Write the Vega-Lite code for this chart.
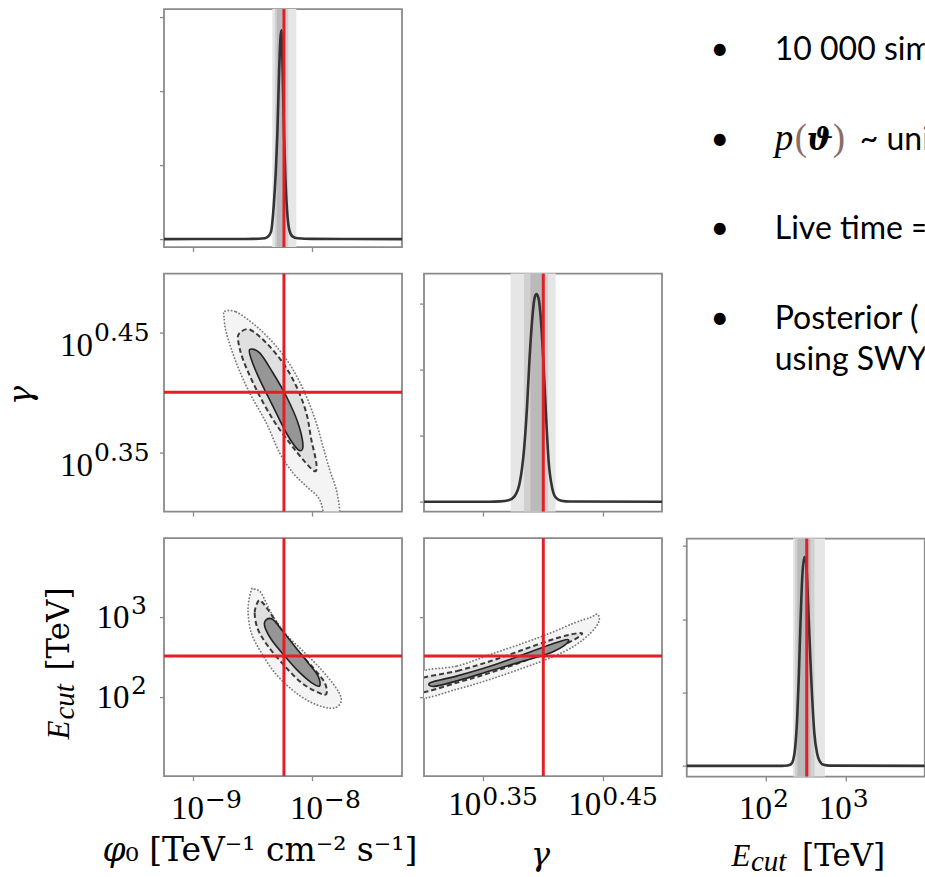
{
"$schema": "https://vega.github.io/schema/vega-lite/v6.json",
"background": "white",
"padding": {"left": 4.0, "top": 6.1, "right": 0, "bottom": 0},
"config": {
  "view": {"stroke": "#8a8a8a", "strokeWidth": 1.8},
  "axis": {"labels": false, "domain": false, "grid": false, "tickColor": "#8a8a8a", "tickSize": 4.5, "tickWidth": 1.3}
},
"datasets": {
  "truth": [{"log_phi0": -8.236, "log_gamma": 0.400, "log_Ecut": 2.51}],
  "bands_phi0": [{"interval": "99.7%", "lo": -8.334, "hi": -8.132}, {"interval": "95%", "lo": -8.313, "hi": -8.200}, {"interval": "68%", "lo": -8.296, "hi": -8.225}],
  "bands_gamma": [{"interval": "99.7%", "lo": 0.3728, "hi": 0.4103}, {"interval": "95%", "lo": 0.3839, "hi": 0.4039}, {"interval": "68%", "lo": 0.3893, "hi": 0.3994}],
  "bands_Ecut": [{"interval": "99.7%", "lo": 2.337, "hi": 2.738}, {"interval": "95%", "lo": 2.362, "hi": 2.607}, {"interval": "68%", "lo": 2.393, "hi": 2.556}],
  "marg_phi0": [{"log_phi0": -9.244, "density": 0.003}, {"log_phi0": -8.7, "density": 0.004}, {"log_phi0": -8.5, "density": 0.006}, {"log_phi0": -8.42, "density": 0.01}, {"log_phi0": -8.375, "density": 0.03}, {"log_phi0": -8.345, "density": 0.1}, {"log_phi0": -8.322, "density": 0.45}, {"log_phi0": -8.305, "density": 0.9}, {"log_phi0": -8.292, "density": 1.4}, {"log_phi0": -8.277, "density": 2.25}, {"log_phi0": -8.266, "density": 2.7}, {"log_phi0": -8.258, "density": 2.82}, {"log_phi0": -8.252, "density": 2.6}, {"log_phi0": -8.246, "density": 2.2}, {"log_phi0": -8.235, "density": 1.4}, {"log_phi0": -8.222, "density": 0.75}, {"log_phi0": -8.208, "density": 0.35}, {"log_phi0": -8.19, "density": 0.12}, {"log_phi0": -8.165, "density": 0.04}, {"log_phi0": -8.12, "density": 0.014}, {"log_phi0": -8.0, "density": 0.006}, {"log_phi0": -7.7, "density": 0.004}, {"log_phi0": -7.244, "density": 0.003}],
  "marg_gamma": [{"log_gamma": 0.3006, "density": 0}, {"log_gamma": 0.355, "density": 0}, {"log_gamma": 0.364, "density": 0.004}, {"log_gamma": 0.371, "density": 0.02}, {"log_gamma": 0.376, "density": 0.08}, {"log_gamma": 0.3805, "density": 0.3}, {"log_gamma": 0.384, "density": 0.8}, {"log_gamma": 0.3865, "density": 1.45}, {"log_gamma": 0.3885, "density": 2.15}, {"log_gamma": 0.3905, "density": 2.7}, {"log_gamma": 0.3925, "density": 3.06}, {"log_gamma": 0.3942, "density": 3.14}, {"log_gamma": 0.396, "density": 3.08}, {"log_gamma": 0.398, "density": 2.75}, {"log_gamma": 0.4, "density": 2.15}, {"log_gamma": 0.402, "density": 1.4}, {"log_gamma": 0.4045, "density": 0.6}, {"log_gamma": 0.4075, "density": 0.2}, {"log_gamma": 0.4105, "density": 0.06}, {"log_gamma": 0.415, "density": 0.015}, {"log_gamma": 0.422, "density": 0.002}, {"log_gamma": 0.4989, "density": 0}],
  "marg_Ecut": [{"log_Ecut": 1.005, "density": 0}, {"log_Ecut": 2.2, "density": 0}, {"log_Ecut": 2.27, "density": 0.005}, {"log_Ecut": 2.31, "density": 0.02}, {"log_Ecut": 2.34, "density": 0.08}, {"log_Ecut": 2.365, "density": 0.25}, {"log_Ecut": 2.39, "density": 0.65}, {"log_Ecut": 2.41, "density": 1.2}, {"log_Ecut": 2.43, "density": 1.9}, {"log_Ecut": 2.455, "density": 2.6}, {"log_Ecut": 2.481, "density": 2.85}, {"log_Ecut": 2.502, "density": 2.77}, {"log_Ecut": 2.53, "density": 2.13}, {"log_Ecut": 2.565, "density": 1.22}, {"log_Ecut": 2.605, "density": 0.45}, {"log_Ecut": 2.64, "density": 0.17}, {"log_Ecut": 2.67, "density": 0.07}, {"log_Ecut": 2.72, "density": 0.015}, {"log_Ecut": 2.8, "density": 0.003}, {"log_Ecut": 3.99, "density": 0}],
  "cont_phi0_gamma": [
    {"level": "outer", "i": 0, "log_phi0": -8.734, "log_gamma": 0.4675}, {"level": "outer", "i": 1, "log_phi0": -8.636, "log_gamma": 0.4669}, {"level": "outer", "i": 2, "log_phi0": -8.468, "log_gamma": 0.4550}, {"level": "outer", "i": 3, "log_phi0": -8.300, "log_gamma": 0.4383}, {"level": "outer", "i": 4, "log_phi0": -8.160, "log_gamma": 0.4189}, {"level": "outer", "i": 5, "log_phi0": -8.048, "log_gamma": 0.3967}, {"level": "outer", "i": 6, "log_phi0": -7.964, "log_gamma": 0.3744}, {"level": "outer", "i": 7, "log_phi0": -7.908, "log_gamma": 0.3550}, {"level": "outer", "i": 8, "log_phi0": -7.852, "log_gamma": 0.3356}, {"level": "outer", "i": 9, "log_phi0": -7.796, "log_gamma": 0.3189}, {"level": "outer", "i": 10, "log_phi0": -7.768, "log_gamma": 0.3023}, {"level": "outer", "i": 11, "log_phi0": -7.771, "log_gamma": 0.2925}, {"level": "outer", "i": 12, "log_phi0": -7.880, "log_gamma": 0.2925}, {"level": "outer", "i": 13, "log_phi0": -7.936, "log_gamma": 0.3106}, {"level": "outer", "i": 14, "log_phi0": -8.048, "log_gamma": 0.3217}, {"level": "outer", "i": 15, "log_phi0": -8.160, "log_gamma": 0.3328}, {"level": "outer", "i": 16, "log_phi0": -8.272, "log_gamma": 0.3494}, {"level": "outer", "i": 17, "log_phi0": -8.384, "log_gamma": 0.3744}, {"level": "outer", "i": 18, "log_phi0": -8.524, "log_gamma": 0.3994}, {"level": "outer", "i": 19, "log_phi0": -8.636, "log_gamma": 0.4244}, {"level": "outer", "i": 20, "log_phi0": -8.720, "log_gamma": 0.4494}, {"level": "outer", "i": 21, "log_phi0": -8.740, "log_gamma": 0.4633},
    {"level": "mid", "i": 0, "log_phi0": -8.608, "log_gamma": 0.4494}, {"level": "mid", "i": 1, "log_phi0": -8.524, "log_gamma": 0.4523}, {"level": "mid", "i": 2, "log_phi0": -8.384, "log_gamma": 0.4411}, {"level": "mid", "i": 3, "log_phi0": -8.244, "log_gamma": 0.4244}, {"level": "mid", "i": 4, "log_phi0": -8.132, "log_gamma": 0.4050}, {"level": "mid", "i": 5, "log_phi0": -8.048, "log_gamma": 0.3828}, {"level": "mid", "i": 6, "log_phi0": -8.006, "log_gamma": 0.3606}, {"level": "mid", "i": 7, "log_phi0": -7.964, "log_gamma": 0.3411}, {"level": "mid", "i": 8, "log_phi0": -7.978, "log_gamma": 0.3342}, {"level": "mid", "i": 9, "log_phi0": -8.076, "log_gamma": 0.3439}, {"level": "mid", "i": 10, "log_phi0": -8.188, "log_gamma": 0.3578}, {"level": "mid", "i": 11, "log_phi0": -8.328, "log_gamma": 0.3773}, {"level": "mid", "i": 12, "log_phi0": -8.468, "log_gamma": 0.4023}, {"level": "mid", "i": 13, "log_phi0": -8.580, "log_gamma": 0.4273}, {"level": "mid", "i": 14, "log_phi0": -8.622, "log_gamma": 0.4439},
    {"level": "inner", "i": 0, "log_phi0": -8.524, "log_gamma": 0.4356}, {"level": "inner", "i": 1, "log_phi0": -8.440, "log_gamma": 0.4328}, {"level": "inner", "i": 2, "log_phi0": -8.328, "log_gamma": 0.4161}, {"level": "inner", "i": 3, "log_phi0": -8.216, "log_gamma": 0.3967}, {"level": "inner", "i": 4, "log_phi0": -8.118, "log_gamma": 0.3744}, {"level": "inner", "i": 5, "log_phi0": -8.076, "log_gamma": 0.3550}, {"level": "inner", "i": 6, "log_phi0": -8.118, "log_gamma": 0.3523}, {"level": "inner", "i": 7, "log_phi0": -8.216, "log_gamma": 0.3661}, {"level": "inner", "i": 8, "log_phi0": -8.328, "log_gamma": 0.3883}, {"level": "inner", "i": 9, "log_phi0": -8.440, "log_gamma": 0.4106}, {"level": "inner", "i": 10, "log_phi0": -8.510, "log_gamma": 0.4273}
  ],
  "cont_phi0_Ecut": [
    {"level": "outer", "i": 0, "log_phi0": -8.510, "log_Ecut": 3.341}, {"level": "outer", "i": 1, "log_phi0": -8.482, "log_Ecut": 3.349}, {"level": "outer", "i": 2, "log_phi0": -8.426, "log_Ecut": 3.299}, {"level": "outer", "i": 3, "log_phi0": -8.342, "log_Ecut": 3.050}, {"level": "outer", "i": 4, "log_phi0": -8.230, "log_Ecut": 2.801}, {"level": "outer", "i": 5, "log_phi0": -8.090, "log_Ecut": 2.594}, {"level": "outer", "i": 6, "log_phi0": -7.950, "log_Ecut": 2.386}, {"level": "outer", "i": 7, "log_phi0": -7.810, "log_Ecut": 2.137}, {"level": "outer", "i": 8, "log_phi0": -7.754, "log_Ecut": 1.971}, {"level": "outer", "i": 9, "log_phi0": -7.796, "log_Ecut": 1.867}, {"level": "outer", "i": 10, "log_phi0": -7.894, "log_Ecut": 1.867}, {"level": "outer", "i": 11, "log_phi0": -8.034, "log_Ecut": 1.950}, {"level": "outer", "i": 12, "log_phi0": -8.174, "log_Ecut": 2.096}, {"level": "outer", "i": 13, "log_phi0": -8.314, "log_Ecut": 2.303}, {"level": "outer", "i": 14, "log_phi0": -8.426, "log_Ecut": 2.552}, {"level": "outer", "i": 15, "log_phi0": -8.510, "log_Ecut": 2.801}, {"level": "outer", "i": 16, "log_phi0": -8.538, "log_Ecut": 3.092},
    {"level": "mid", "i": 0, "log_phi0": -8.454, "log_Ecut": 3.196}, {"level": "mid", "i": 1, "log_phi0": -8.482, "log_Ecut": 3.050}, {"level": "mid", "i": 2, "log_phi0": -8.454, "log_Ecut": 2.843}, {"level": "mid", "i": 3, "log_phi0": -8.370, "log_Ecut": 2.635}, {"level": "mid", "i": 4, "log_phi0": -8.230, "log_Ecut": 2.386}, {"level": "mid", "i": 5, "log_phi0": -8.090, "log_Ecut": 2.178}, {"level": "mid", "i": 6, "log_phi0": -7.950, "log_Ecut": 2.054}, {"level": "mid", "i": 7, "log_phi0": -7.880, "log_Ecut": 2.034}, {"level": "mid", "i": 8, "log_phi0": -7.894, "log_Ecut": 2.178}, {"level": "mid", "i": 9, "log_phi0": -7.992, "log_Ecut": 2.365}, {"level": "mid", "i": 10, "log_phi0": -8.132, "log_Ecut": 2.594}, {"level": "mid", "i": 11, "log_phi0": -8.258, "log_Ecut": 2.843}, {"level": "mid", "i": 12, "log_phi0": -8.370, "log_Ecut": 3.092}, {"level": "mid", "i": 13, "log_phi0": -8.426, "log_Ecut": 3.196},
    {"level": "inner", "i": 0, "log_phi0": -8.384, "log_Ecut": 2.968}, {"level": "inner", "i": 1, "log_phi0": -8.398, "log_Ecut": 2.884}, {"level": "inner", "i": 2, "log_phi0": -8.342, "log_Ecut": 2.719}, {"level": "inner", "i": 3, "log_phi0": -8.230, "log_Ecut": 2.511}, {"level": "inner", "i": 4, "log_phi0": -8.118, "log_Ecut": 2.324}, {"level": "inner", "i": 5, "log_phi0": -8.006, "log_Ecut": 2.178}, {"level": "inner", "i": 6, "log_phi0": -7.936, "log_Ecut": 2.137}, {"level": "inner", "i": 7, "log_phi0": -7.950, "log_Ecut": 2.262}, {"level": "inner", "i": 8, "log_phi0": -8.034, "log_Ecut": 2.427}, {"level": "inner", "i": 9, "log_phi0": -8.146, "log_Ecut": 2.635}, {"level": "inner", "i": 10, "log_phi0": -8.258, "log_Ecut": 2.843}, {"level": "inner", "i": 11, "log_phi0": -8.328, "log_Ecut": 2.968}
  ],
  "cont_gamma_Ecut": [
    {"level": "outer", "i": 0, "log_gamma": 0.2964, "log_Ecut": 2.299}, {"level": "outer", "i": 1, "log_gamma": 0.3283, "log_Ecut": 2.386}, {"level": "outer", "i": 2, "log_gamma": 0.3562, "log_Ecut": 2.532}, {"level": "outer", "i": 3, "log_gamma": 0.3839, "log_Ecut": 2.676}, {"level": "outer", "i": 4, "log_gamma": 0.4062, "log_Ecut": 2.801}, {"level": "outer", "i": 5, "log_gamma": 0.4256, "log_Ecut": 2.925}, {"level": "outer", "i": 6, "log_gamma": 0.4395, "log_Ecut": 2.996}, {"level": "outer", "i": 7, "log_gamma": 0.4450, "log_Ecut": 3.037}, {"level": "outer", "i": 8, "log_gamma": 0.4464, "log_Ecut": 2.946}, {"level": "outer", "i": 9, "log_gamma": 0.4395, "log_Ecut": 2.801}, {"level": "outer", "i": 10, "log_gamma": 0.4256, "log_Ecut": 2.635}, {"level": "outer", "i": 11, "log_gamma": 0.4062, "log_Ecut": 2.489}, {"level": "outer", "i": 12, "log_gamma": 0.3839, "log_Ecut": 2.365}, {"level": "outer", "i": 13, "log_gamma": 0.3562, "log_Ecut": 2.220}, {"level": "outer", "i": 14, "log_gamma": 0.3283, "log_Ecut": 2.096}, {"level": "outer", "i": 15, "log_gamma": 0.2964, "log_Ecut": 1.988},
    {"level": "mid", "i": 0, "log_gamma": 0.2964, "log_Ecut": 2.218}, {"level": "mid", "i": 1, "log_gamma": 0.3283, "log_Ecut": 2.324}, {"level": "mid", "i": 2, "log_gamma": 0.3562, "log_Ecut": 2.448}, {"level": "mid", "i": 3, "log_gamma": 0.3839, "log_Ecut": 2.594}, {"level": "mid", "i": 4, "log_gamma": 0.4117, "log_Ecut": 2.738}, {"level": "mid", "i": 5, "log_gamma": 0.4312, "log_Ecut": 2.801}, {"level": "mid", "i": 6, "log_gamma": 0.4283, "log_Ecut": 2.738}, {"level": "mid", "i": 7, "log_gamma": 0.4117, "log_Ecut": 2.614}, {"level": "mid", "i": 8, "log_gamma": 0.3839, "log_Ecut": 2.448}, {"level": "mid", "i": 9, "log_gamma": 0.3562, "log_Ecut": 2.303}, {"level": "mid", "i": 10, "log_gamma": 0.3283, "log_Ecut": 2.178}, {"level": "mid", "i": 11, "log_gamma": 0.2964, "log_Ecut": 2.050},
    {"level": "inner", "i": 0, "log_gamma": 0.3062, "log_Ecut": 2.178}, {"level": "inner", "i": 1, "log_gamma": 0.3283, "log_Ecut": 2.262}, {"level": "inner", "i": 2, "log_gamma": 0.3562, "log_Ecut": 2.386}, {"level": "inner", "i": 3, "log_gamma": 0.3839, "log_Ecut": 2.532}, {"level": "inner", "i": 4, "log_gamma": 0.4062, "log_Ecut": 2.656}, {"level": "inner", "i": 5, "log_gamma": 0.4200, "log_Ecut": 2.719}, {"level": "inner", "i": 6, "log_gamma": 0.4187, "log_Ecut": 2.656}, {"level": "inner", "i": 7, "log_gamma": 0.4062, "log_Ecut": 2.552}, {"level": "inner", "i": 8, "log_gamma": 0.3839, "log_Ecut": 2.450}, {"level": "inner", "i": 9, "log_gamma": 0.3562, "log_Ecut": 2.325}, {"level": "inner", "i": 10, "log_gamma": 0.3283, "log_Ecut": 2.200}, {"level": "inner", "i": 11, "log_gamma": 0.3089, "log_Ecut": 2.130}
  ],
  "labels_phi0": [{"tick": -9, "exponent": "−9"}, {"tick": -8, "exponent": "−8"}],
  "labels_gamma": [{"tick": 0.35, "exponent": "0.35"}, {"tick": 0.45, "exponent": "0.45"}],
  "labels_Ecut": [{"tick": 2, "exponent": "2"}, {"tick": 3, "exponent": "3"}],
  "bullets": [
    {"line": 1, "part": "bullet", "text": "•"}, {"line": 1, "part": "text", "text": "10 000 simulations"},
    {"line": 2, "part": "bullet", "text": "•"},
    {"line": 3, "part": "bullet", "text": "•"}, {"line": 3, "part": "text", "text": "Live time ="},
    {"line": 4, "part": "bullet", "text": "•"}, {"line": 4, "part": "text", "text": ["Posterior (", "using SWYFT"]}
  ]
},
"spacing": -2,
"hconcat": [
  {"vconcat": [
    {"width": 238, "height": 238, "layer": [
      {"data": {"name": "bands_phi0"}, "mark": {"type": "rect", "opacity": 1}, "encoding": {
        "x": {"field": "lo", "type": "quantitative", "title": null, "scale": {"domain": [-9.244, -7.244], "nice": false, "zero": false}, "axis": {"values": [-9, -8]}},
        "x2": {"field": "hi"},
        "color": {"field": "interval", "type": "nominal", "scale": {"domain": ["99.7%", "95%", "68%"], "range": ["#e6e6e6", "#d0d0d0", "#bababa"]}, "legend": null}}},
      {"data": {"name": "marg_phi0"}, "mark": {"type": "line", "color": "#333333", "strokeWidth": 2.6, "interpolate": "monotone"}, "encoding": {
        "x": {"field": "log_phi0", "type": "quantitative", "title": null},
        "y": {"field": "density", "type": "quantitative", "title": null, "scale": {"domain": [-0.105, 3.105], "nice": false, "zero": false}, "axis": {"values": [0, 1, 2, 3]}}}},
      {"data": {"name": "truth"}, "mark": {"type": "rule", "color": "#e41e26", "strokeWidth": 3}, "encoding": {
        "x": {"field": "log_phi0", "type": "quantitative", "title": null}}}
    ]},
    {"width": 238, "height": 238, "layer": [
      {"data": {"name": "cont_phi0_gamma"}, "transform": [{"filter": "datum.level === 'outer'"}],
       "mark": {"type": "line", "interpolate": "cardinal-closed", "fill": "#f4f4f4", "stroke": "#7a7a7a", "strokeWidth": 1.8, "strokeDash": [0.1, 3.2], "strokeCap": "round", "clip": true},
       "encoding": {
        "x": {"field": "log_phi0", "type": "quantitative", "title": null, "scale": {"domain": [-9.244, -7.244], "nice": false, "zero": false}, "axis": {"values": [-9, -8]}},
        "y": {"field": "log_gamma", "type": "quantitative", "title": null, "scale": {"domain": [0.3006, 0.4989], "nice": false, "zero": false}, "axis": {"values": [0.35, 0.45]}},
        "order": {"field": "i", "type": "quantitative"}}},
      {"data": {"name": "cont_phi0_gamma"}, "transform": [{"filter": "datum.level === 'mid'"}],
       "mark": {"type": "line", "interpolate": "cardinal-closed", "fill": "#e0e0e0", "stroke": "#3a3a3a", "strokeWidth": 2, "strokeDash": [5, 3], "clip": true},
       "encoding": {"x": {"field": "log_phi0", "type": "quantitative", "title": null}, "y": {"field": "log_gamma", "type": "quantitative", "title": null}, "order": {"field": "i", "type": "quantitative"}}},
      {"data": {"name": "cont_phi0_gamma"}, "transform": [{"filter": "datum.level === 'inner'"}],
       "mark": {"type": "line", "interpolate": "cardinal-closed", "fill": "#969696", "stroke": "#222222", "strokeWidth": 1.6, "clip": true},
       "encoding": {"x": {"field": "log_phi0", "type": "quantitative", "title": null}, "y": {"field": "log_gamma", "type": "quantitative", "title": null}, "order": {"field": "i", "type": "quantitative"}}},
      {"data": {"name": "truth"}, "mark": {"type": "rule", "color": "#e41e26", "strokeWidth": 3}, "encoding": {"x": {"field": "log_phi0", "type": "quantitative", "title": null}}},
      {"data": {"name": "truth"}, "mark": {"type": "rule", "color": "#e41e26", "strokeWidth": 3}, "encoding": {"y": {"field": "log_gamma", "type": "quantitative", "title": null}}},
      {"data": {"name": "labels_gamma"}, "mark": {"type": "text", "text": "10", "align": "right", "baseline": "alphabetic", "font": "Liberation Serif", "fontSize": 33, "dx": -71, "dy": 24},
       "encoding": {"x": {"datum": -9.244, "title": null}, "y": {"field": "tick", "type": "quantitative", "title": null}}},
      {"data": {"name": "labels_gamma"}, "mark": {"type": "text", "align": "left", "baseline": "alphabetic", "font": "DejaVu Serif", "fontSize": 25, "dx": -70, "dy": 9},
       "encoding": {"x": {"datum": -9.244, "title": null}, "y": {"field": "tick", "type": "quantitative", "title": null}, "text": {"field": "exponent", "type": "nominal"}}},
      {"data": {"values": [{}]}, "mark": {"type": "text", "text": "γ", "angle": 270, "align": "center", "baseline": "alphabetic", "font": "DejaVu Serif", "fontStyle": "italic", "fontSize": 32, "dy": -133},
       "encoding": {"x": {"datum": -9.244, "title": null}, "y": {"datum": 0.3973, "title": null}}}
    ]},
    {"width": 238, "height": 238, "layer": [
      {"data": {"name": "cont_phi0_Ecut"}, "transform": [{"filter": "datum.level === 'outer'"}],
       "mark": {"type": "line", "interpolate": "cardinal-closed", "fill": "#f4f4f4", "stroke": "#7a7a7a", "strokeWidth": 1.8, "strokeDash": [0.1, 3.2], "strokeCap": "round", "clip": true},
       "encoding": {
        "x": {"field": "log_phi0", "type": "quantitative", "title": null, "scale": {"domain": [-9.244, -7.244], "nice": false, "zero": false}, "axis": {"values": [-9, -8]}},
        "y": {"field": "log_Ecut", "type": "quantitative", "title": null, "scale": {"domain": [1.005, 3.99], "nice": false, "zero": false}, "axis": {"values": [2, 3]}},
        "order": {"field": "i", "type": "quantitative"}}},
      {"data": {"name": "cont_phi0_Ecut"}, "transform": [{"filter": "datum.level === 'mid'"}],
       "mark": {"type": "line", "interpolate": "cardinal-closed", "fill": "#e0e0e0", "stroke": "#3a3a3a", "strokeWidth": 2, "strokeDash": [5, 3], "clip": true},
       "encoding": {"x": {"field": "log_phi0", "type": "quantitative", "title": null}, "y": {"field": "log_Ecut", "type": "quantitative", "title": null}, "order": {"field": "i", "type": "quantitative"}}},
      {"data": {"name": "cont_phi0_Ecut"}, "transform": [{"filter": "datum.level === 'inner'"}],
       "mark": {"type": "line", "interpolate": "cardinal-closed", "fill": "#969696", "stroke": "#222222", "strokeWidth": 1.6, "clip": true},
       "encoding": {"x": {"field": "log_phi0", "type": "quantitative", "title": null}, "y": {"field": "log_Ecut", "type": "quantitative", "title": null}, "order": {"field": "i", "type": "quantitative"}}},
      {"data": {"name": "truth"}, "mark": {"type": "rule", "color": "#e41e26", "strokeWidth": 3}, "encoding": {"x": {"field": "log_phi0", "type": "quantitative", "title": null}}},
      {"data": {"name": "truth"}, "mark": {"type": "rule", "color": "#e41e26", "strokeWidth": 3}, "encoding": {"y": {"field": "log_Ecut", "type": "quantitative", "title": null}}},
      {"data": {"name": "labels_Ecut"}, "mark": {"type": "text", "text": "10", "align": "right", "baseline": "alphabetic", "font": "Liberation Serif", "fontSize": 33, "dx": -34.4, "dy": 11},
       "encoding": {"x": {"datum": -9.244, "title": null}, "y": {"field": "tick", "type": "quantitative", "title": null}}},
      {"data": {"name": "labels_Ecut"}, "mark": {"type": "text", "align": "left", "baseline": "alphabetic", "font": "DejaVu Serif", "fontSize": 25, "dx": -33, "dy": -3},
       "encoding": {"x": {"datum": -9.244, "title": null}, "y": {"field": "tick", "type": "quantitative", "title": null}, "text": {"field": "exponent", "type": "nominal"}}},
      {"data": {"name": "labels_phi0"}, "mark": {"type": "text", "text": "10", "align": "right", "baseline": "alphabetic", "font": "Liberation Serif", "fontSize": 33, "dx": 11, "dy": 43},
       "encoding": {"x": {"field": "tick", "type": "quantitative", "title": null}, "y": {"datum": 1.005, "title": null}}},
      {"data": {"name": "labels_phi0"}, "mark": {"type": "text", "align": "left", "baseline": "alphabetic", "font": "DejaVu Serif", "fontSize": 25, "dx": 12, "dy": 31.7},
       "encoding": {"x": {"field": "tick", "type": "quantitative", "title": null}, "y": {"datum": 1.005, "title": null}, "text": {"field": "exponent", "type": "nominal"}}},
      {"data": {"values": [{}]}, "mark": {"type": "text", "text": "E", "angle": 270, "align": "right", "baseline": "alphabetic", "font": "Liberation Serif", "fontStyle": "italic", "fontSize": 31, "dy": -95},
       "encoding": {"x": {"datum": -9.244, "title": null}, "y": {"datum": 1.701, "title": null}}},
      {"data": {"values": [{}]}, "mark": {"type": "text", "text": "cut", "angle": 270, "align": "left", "baseline": "alphabetic", "font": "Liberation Serif", "fontStyle": "italic", "fontSize": 29, "dx": 1, "dy": -90},
       "encoding": {"x": {"datum": -9.244, "title": null}, "y": {"datum": 1.701, "title": null}}},
      {"data": {"values": [{}]}, "mark": {"type": "text", "text": "[TeV]", "angle": 270, "align": "left", "baseline": "alphabetic", "font": "DejaVu Serif", "fontSize": 31, "dx": 50, "dy": -95},
       "encoding": {"x": {"datum": -9.244, "title": null}, "y": {"datum": 1.701, "title": null}}},
      {"data": {"values": [{}]}, "mark": {"type": "text", "text": "φ", "align": "right", "baseline": "alphabetic", "font": "DejaVu Serif", "fontStyle": "italic", "fontSize": 33, "dx": -38.5, "dy": 85},
       "encoding": {"x": {"datum": -9.244, "title": null}, "y": {"datum": 1.005, "title": null}}},
      {"data": {"values": [{}]}, "mark": {"type": "text", "text": "₀ [TeV⁻¹ cm⁻² s⁻¹]", "align": "left", "baseline": "alphabetic", "font": "DejaVu Serif", "fontSize": 33, "dx": -38.5, "dy": 85},
       "encoding": {"x": {"datum": -9.244, "title": null}, "y": {"datum": 1.005, "title": null}}}
    ]}
  ], "spacing": 26.5, "bounds": "flush"},
  {"hconcat": [
    {"vconcat": [
      {"width": 238, "height": 238, "view": {"stroke": null}, "data": {"values": [{}]}, "mark": {"type": "text", "text": ""}},
      {"width": 238, "height": 238, "layer": [
        {"data": {"name": "bands_gamma"}, "mark": {"type": "rect", "opacity": 1}, "encoding": {
          "x": {"field": "lo", "type": "quantitative", "title": null, "scale": {"domain": [0.3006, 0.4989], "nice": false, "zero": false}, "axis": {"values": [0.35, 0.45]}},
          "x2": {"field": "hi"},
          "color": {"field": "interval", "type": "nominal", "scale": {"domain": ["99.7%", "95%", "68%"], "range": ["#e6e6e6", "#d0d0d0", "#bababa"]}, "legend": null}}},
        {"data": {"name": "marg_gamma"}, "mark": {"type": "line", "color": "#333333", "strokeWidth": 2.6, "interpolate": "monotone"}, "encoding": {
          "x": {"field": "log_gamma", "type": "quantitative", "title": null},
          "y": {"field": "density", "type": "quantitative", "title": null, "scale": {"domain": [-0.15, 3.45], "nice": false, "zero": false}, "axis": {"values": [0, 1, 2, 3]}}}},
        {"data": {"name": "truth"}, "mark": {"type": "rule", "color": "#e41e26", "strokeWidth": 3}, "encoding": {
          "x": {"field": "log_gamma", "type": "quantitative", "title": null}}}
      ]},
      {"width": 238, "height": 238, "layer": [
        {"data": {"name": "cont_gamma_Ecut"}, "transform": [{"filter": "datum.level === 'outer'"}],
         "mark": {"type": "line", "interpolate": "cardinal-closed", "fill": "#f4f4f4", "stroke": "#7a7a7a", "strokeWidth": 1.8, "strokeDash": [0.1, 3.2], "strokeCap": "round", "clip": true},
         "encoding": {
          "x": {"field": "log_gamma", "type": "quantitative", "title": null, "scale": {"domain": [0.3006, 0.4989], "nice": false, "zero": false}, "axis": {"values": [0.35, 0.45]}},
          "y": {"field": "log_Ecut", "type": "quantitative", "title": null, "scale": {"domain": [1.005, 3.99], "nice": false, "zero": false}, "axis": {"values": [2, 3]}},
          "order": {"field": "i", "type": "quantitative"}}},
        {"data": {"name": "cont_gamma_Ecut"}, "transform": [{"filter": "datum.level === 'mid'"}],
         "mark": {"type": "line", "interpolate": "cardinal-closed", "fill": "#e0e0e0", "stroke": "#3a3a3a", "strokeWidth": 2, "strokeDash": [5, 3], "clip": true},
         "encoding": {"x": {"field": "log_gamma", "type": "quantitative", "title": null}, "y": {"field": "log_Ecut", "type": "quantitative", "title": null}, "order": {"field": "i", "type": "quantitative"}}},
        {"data": {"name": "cont_gamma_Ecut"}, "transform": [{"filter": "datum.level === 'inner'"}],
         "mark": {"type": "line", "interpolate": "cardinal-closed", "fill": "#969696", "stroke": "#222222", "strokeWidth": 1.6, "clip": true},
         "encoding": {"x": {"field": "log_gamma", "type": "quantitative", "title": null}, "y": {"field": "log_Ecut", "type": "quantitative", "title": null}, "order": {"field": "i", "type": "quantitative"}}},
        {"data": {"name": "truth"}, "mark": {"type": "rule", "color": "#e41e26", "strokeWidth": 3}, "encoding": {"x": {"field": "log_gamma", "type": "quantitative", "title": null}}},
        {"data": {"name": "truth"}, "mark": {"type": "rule", "color": "#e41e26", "strokeWidth": 3}, "encoding": {"y": {"field": "log_Ecut", "type": "quantitative", "title": null}}},
        {"data": {"name": "labels_gamma"}, "mark": {"type": "text", "text": "10", "align": "right", "baseline": "alphabetic", "font": "Liberation Serif", "fontSize": 33, "dx": -2, "dy": 39},
         "encoding": {"x": {"field": "tick", "type": "quantitative", "title": null}, "y": {"datum": 1.005, "title": null}}},
        {"data": {"name": "labels_gamma"}, "mark": {"type": "text", "align": "left", "baseline": "alphabetic", "font": "DejaVu Serif", "fontSize": 25, "dx": -1, "dy": 29},
         "encoding": {"x": {"field": "tick", "type": "quantitative", "title": null}, "y": {"datum": 1.005, "title": null}, "text": {"field": "exponent", "type": "nominal"}}},
        {"data": {"values": [{}]}, "mark": {"type": "text", "text": "γ", "align": "center", "baseline": "alphabetic", "font": "DejaVu Serif", "fontStyle": "italic", "fontSize": 32, "dy": 89},
         "encoding": {"x": {"datum": 0.3978, "title": null}, "y": {"datum": 1.005, "title": null}}}
      ]}
    ], "spacing": 26.5, "bounds": "flush"},
    {"vconcat": [
      {"width": 238, "height": 502.5, "view": {"stroke": null}, "layer": [
        {"data": {"name": "bullets"}, "transform": [{"filter": "datum.part === 'bullet'"}],
         "mark": {"type": "text", "align": "center", "baseline": "alphabetic", "font": "Lato", "fontSize": 32, "color": "#000000", "clip": true},
         "encoding": {
          "x": {"datum": 0, "type": "quantitative", "title": null, "scale": {"domain": [-0.6, 3.7273], "nice": false, "zero": false}, "axis": null},
          "y": {"field": "line", "type": "quantitative", "title": null, "scale": {"domain": [0.4266, 6.043], "reverse": true, "nice": false, "zero": false}, "axis": null},
          "text": {"field": "text", "type": "nominal"}}},
        {"data": {"name": "bullets"}, "transform": [{"filter": "datum.part === 'text'"}],
         "mark": {"type": "text", "align": "left", "baseline": "alphabetic", "font": "Lato", "fontSize": 32, "lineHeight": 41.6, "color": "#000000", "clip": true},
         "encoding": {
          "x": {"datum": 1, "type": "quantitative", "title": null},
          "y": {"field": "line", "type": "quantitative", "title": null},
          "text": {"field": "text", "type": "nominal"}}},
        {"data": {"values": [{"line": 2}]},
         "mark": {"type": "text", "text": "p", "align": "left", "baseline": "alphabetic", "font": "Liberation Serif", "fontStyle": "italic", "fontSize": 37, "color": "#000000", "clip": true},
         "encoding": {"x": {"datum": 1, "type": "quantitative", "title": null}, "y": {"field": "line", "type": "quantitative", "title": null}}},
        {"data": {"values": [{"line": 2}]},
         "mark": {"type": "text", "text": "(", "align": "left", "baseline": "alphabetic", "font": "Liberation Serif", "fontSize": 37, "color": "#8b6c66", "dx": 20, "clip": true},
         "encoding": {"x": {"datum": 1, "type": "quantitative", "title": null}, "y": {"field": "line", "type": "quantitative", "title": null}}},
        {"data": {"values": [{"line": 2}]},
         "mark": {"type": "text", "text": "ϑ", "align": "left", "baseline": "alphabetic", "font": "DejaVu Serif", "fontStyle": "italic", "fontWeight": "bold", "fontSize": 31, "color": "#000000", "dx": 32, "clip": true},
         "encoding": {"x": {"datum": 1, "type": "quantitative", "title": null}, "y": {"field": "line", "type": "quantitative", "title": null}}},
        {"data": {"values": [{"line": 2}]},
         "mark": {"type": "text", "text": ")", "align": "left", "baseline": "alphabetic", "font": "Liberation Serif", "fontSize": 37, "color": "#8b6c66", "dx": 58, "clip": true},
         "encoding": {"x": {"datum": 1, "type": "quantitative", "title": null}, "y": {"field": "line", "type": "quantitative", "title": null}}},
        {"data": {"values": [{"line": 2}]},
         "mark": {"type": "text", "text": "~ uniform", "align": "left", "baseline": "alphabetic", "font": "Lato", "fontSize": 32, "color": "#000000", "dx": 85, "clip": true},
         "encoding": {"x": {"datum": 1, "type": "quantitative", "title": null}, "y": {"field": "line", "type": "quantitative", "title": null}}}
      ]},
      {"width": 238, "height": 238, "layer": [
        {"data": {"name": "bands_Ecut"}, "mark": {"type": "rect", "opacity": 1}, "encoding": {
          "x": {"field": "lo", "type": "quantitative", "title": null, "scale": {"domain": [1.005, 3.99], "nice": false, "zero": false}, "axis": {"values": [2, 3]}},
          "x2": {"field": "hi"},
          "color": {"field": "interval", "type": "nominal", "scale": {"domain": ["99.7%", "95%", "68%"], "range": ["#e6e6e6", "#d0d0d0", "#bababa"]}, "legend": null}}},
        {"data": {"name": "marg_Ecut"}, "mark": {"type": "line", "color": "#333333", "strokeWidth": 2.6, "interpolate": "monotone"}, "encoding": {
          "x": {"field": "log_Ecut", "type": "quantitative", "title": null},
          "y": {"field": "density", "type": "quantitative", "title": null, "scale": {"domain": [-0.146, 3.1], "nice": false, "zero": false}, "axis": {"values": [0, 1, 2, 3]}}}},
        {"data": {"name": "truth"}, "mark": {"type": "rule", "color": "#e41e26", "strokeWidth": 3}, "encoding": {
          "x": {"field": "log_Ecut", "type": "quantitative", "title": null}}},
        {"data": {"name": "labels_Ecut"}, "mark": {"type": "text", "text": "10", "align": "right", "baseline": "alphabetic", "font": "Liberation Serif", "fontSize": 33, "dx": 6, "dy": 42.3},
         "encoding": {"x": {"field": "tick", "type": "quantitative", "title": null}, "y": {"datum": -0.146, "title": null}}},
        {"data": {"name": "labels_Ecut"}, "mark": {"type": "text", "align": "left", "baseline": "alphabetic", "font": "DejaVu Serif", "fontSize": 25, "dx": 7, "dy": 30},
         "encoding": {"x": {"field": "tick", "type": "quantitative", "title": null}, "y": {"datum": -0.146, "title": null}, "text": {"field": "exponent", "type": "nominal"}}},
        {"data": {"values": [{}]}, "mark": {"type": "text", "text": "E", "align": "right", "baseline": "alphabetic", "font": "Liberation Serif", "fontStyle": "italic", "fontSize": 31, "dy": 89.3},
         "encoding": {"x": {"datum": 1.804, "title": null}, "y": {"datum": -0.146, "title": null}}},
        {"data": {"values": [{}]}, "mark": {"type": "text", "text": "cut", "align": "left", "baseline": "alphabetic", "font": "Liberation Serif", "fontStyle": "italic", "fontSize": 29, "dx": 0.5, "dy": 94},
         "encoding": {"x": {"datum": 1.804, "title": null}, "y": {"datum": -0.146, "title": null}}},
        {"data": {"values": [{}]}, "mark": {"type": "text", "text": "[TeV]", "align": "left", "baseline": "alphabetic", "font": "DejaVu Serif", "fontSize": 31, "dx": 51.6, "dy": 89.3},
         "encoding": {"x": {"datum": 1.804, "title": null}, "y": {"datum": -0.146, "title": null}}}
      ]}
    ], "spacing": 26.5, "bounds": "flush"}
  ], "spacing": 10.75}
]
}
